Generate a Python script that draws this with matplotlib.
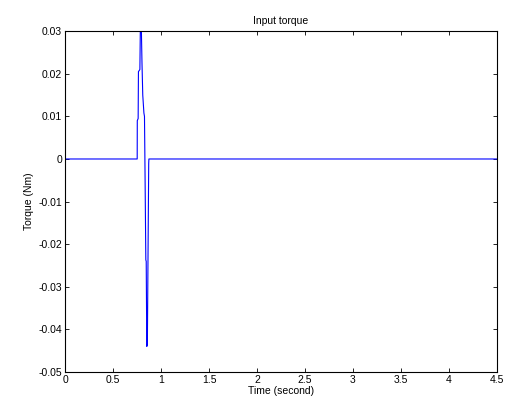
import matplotlib
matplotlib.use('Agg')
import matplotlib.pyplot as plt
from matplotlib.ticker import FuncFormatter, MultipleLocator

plt.rcParams['font.family'] = ['Liberation Sans', 'DejaVu Sans']
plt.rcParams['axes.unicode_minus'] = False

# input torque (time in s, torque in Nm)
time_s = [0, 0.752, 0.753, 0.762, 0.765, 0.780, 0.785, 0.795, 0.802, 0.810,
          0.822, 0.828, 0.834, 0.842, 0.846, 0.852, 0.858, 0.872, 0.874, 4.5]
torque = [0, 0, 0.009, 0.0095, 0.0205, 0.021, 0.031, 0.031, 0.0225, 0.015,
          0.0108, 0.010, -0.004, -0.0237, -0.024, -0.044, -0.0435, -0.001, 0, 0]

fig = plt.figure(figsize=(5.06, 4.05), dpi=100)
ax = fig.add_axes([0.1285, 0.0815, 0.8535, 0.8415])
ax.plot(time_s, torque, color='#0000ff', linewidth=0.8)

ax.set_xlim(0, 4.5)
ax.set_ylim(-0.05, 0.03)
ax.xaxis.set_major_locator(MultipleLocator(0.5))
ax.yaxis.set_major_locator(MultipleLocator(0.01))
fmt = FuncFormatter(lambda v, p: '%g' % (round(v, 4) + 0.0))
ax.xaxis.set_major_formatter(fmt)
ax.yaxis.set_major_formatter(fmt)
ax.tick_params(direction='in', top=True, right=True, length=3, width=0.6,
               labelsize=7.5, pad=2)
for s in ax.spines.values():
    s.set_linewidth(0.8)

ax.set_title('Input torque', fontsize=7.5, pad=5)
ax.set_xlabel('Time (second)', fontsize=7.5, labelpad=1)
ax.set_ylabel('Torque (Nm)', fontsize=7.5, labelpad=3)

fig.savefig('out.png', dpi=100)
